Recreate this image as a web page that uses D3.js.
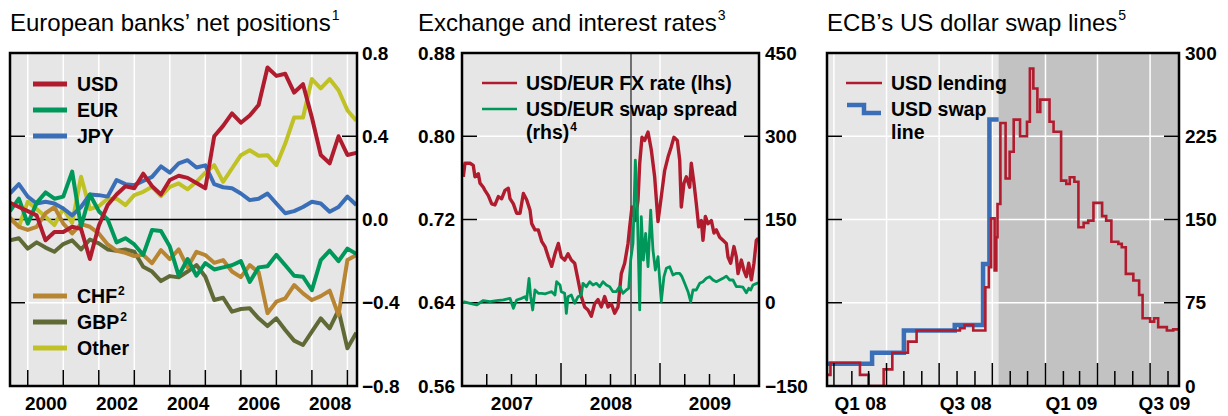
<!DOCTYPE html>
<html>
<head>
<meta charset="utf-8">
<script src="https://cdn.jsdelivr.net/npm/d3@7"></script>
<style>
body { margin: 0; background: #fff; }
svg { display: block; font-family: "Liberation Sans", Arial, Helvetica, sans-serif; }
.axis text { font-size: 19px; font-weight: bold; fill: #000; }
.title { font-size: 24px; fill: #000; }
.leg { font-size: 19.5px; font-weight: bold; fill: #000; }
</style>
</head>
<body>
<svg id="chart" width="1228" height="416"></svg>
<script>
// ---------- panel 1: European banks' net positions (quarterly)
var quarters = ["1999Q3","1999Q4",
  "2000Q1","2000Q2","2000Q3","2000Q4","2001Q1","2001Q2","2001Q3","2001Q4",
  "2002Q1","2002Q2","2002Q3","2002Q4","2003Q1","2003Q2","2003Q3","2003Q4",
  "2004Q1","2004Q2","2004Q3","2004Q4","2005Q1","2005Q2","2005Q3","2005Q4",
  "2006Q1","2006Q2","2006Q3","2006Q4","2007Q1","2007Q2","2007Q3","2007Q4",
  "2008Q1","2008Q2","2008Q3","2008Q4","2009Q1","2009Q2"];
var usd = [0.08,0.06,0.04,0.02,-0.10,-0.06,-0.06,-0.035,-0.045,-0.19,
  -0.03,0.07,0.12,0.16,0.15,0.22,0.16,0.12,0.19,0.21,
  0.20,0.175,0.15,0.40,0.45,0.51,0.465,0.50,0.55,0.73,
  0.69,0.70,0.61,0.65,0.49,0.31,0.27,0.40,0.31,0.32];
var eur = [0.04,0.10,-0.02,0.08,0.13,0.10,0.11,0.23,-0.035,0.12,
  0.04,0.0,-0.11,-0.09,-0.12,-0.17,-0.05,-0.055,-0.13,-0.27,
  -0.19,-0.27,-0.21,-0.24,-0.23,-0.22,-0.20,-0.30,-0.23,-0.225,
  -0.17,-0.22,-0.27,-0.275,-0.34,-0.195,-0.15,-0.20,-0.14,-0.165];
var jpy = [0.125,0.17,0.11,0.077,0.085,0.077,0.053,0.02,0.06,0.12,
  0.117,0.11,0.19,0.17,0.165,0.185,0.205,0.255,0.225,0.27,
  0.285,0.25,0.26,0.17,0.155,0.15,0.125,0.093,0.10,0.125,
  0.077,0.03,0.04,0.06,0.085,0.077,0.037,0.06,0.11,0.07];
var chf = [0.005,-0.035,-0.05,-0.035,0.03,0.06,-0.02,-0.067,-0.022,-0.035,
  -0.067,-0.12,-0.15,-0.16,-0.176,-0.17,-0.21,-0.147,-0.19,-0.144,
  -0.23,-0.155,-0.171,-0.208,-0.195,-0.25,-0.277,-0.219,-0.253,-0.45,
  -0.395,-0.379,-0.315,-0.355,-0.387,-0.368,-0.342,-0.46,-0.195,-0.171];
var gbp = [-0.10,-0.09,-0.14,-0.11,-0.135,-0.155,-0.118,-0.10,-0.144,-0.096,
  -0.115,-0.144,-0.15,-0.144,-0.155,-0.227,-0.25,-0.296,-0.272,-0.278,
  -0.25,-0.219,-0.275,-0.387,-0.376,-0.443,-0.43,-0.427,-0.475,-0.512,
  -0.475,-0.531,-0.582,-0.603,-0.539,-0.475,-0.523,-0.435,-0.619,-0.544];
var other = [0.01,-0.035,0.085,0.05,0.013,-0.027,0.053,-0.016,0.205,0.05,
  0.064,0.10,0.10,0.069,0.117,0.133,0.157,0.112,0.157,0.173,
  0.145,0.181,0.225,0.261,0.181,0.245,0.309,0.333,0.306,0.309,
  0.261,0.365,0.49,0.49,0.675,0.63,0.675,0.621,0.525,0.475];
var yearTicks1 = [2000,2001,2002,2003,2004,2005,2006,2007,2008,2009];
var yearLabels1 = [2000,2002,2004,2006,2008];
var yTicks1 = [-0.8,-0.4,0,0.4,0.8];

// ---------- panel 2: exchange and interest rates (read roughly every 10 days)
var fxYear = [2007.013,2007.030,2007.081,2007.114,2007.131,2007.165,2007.182,2007.215,2007.232,2007.266,
  2007.300,2007.333,2007.367,2007.401,2007.434,2007.468,2007.485,2007.519,2007.552,2007.586,
  2007.620,2007.653,2007.687,2007.704,2007.737,2007.771,2007.805,2007.838,2007.872,2007.906,
  2007.939,2007.973,2008.003,2008.037,2008.071,2008.104,2008.138,2008.172,2008.205,2008.239,
  2008.273,2008.306,2008.340,2008.374,2008.407,2008.441,2008.475,2008.508,2008.542,2008.576,
  2008.609,2008.643,2008.677,2008.694,2008.717,2008.751,2008.778,2008.795,2008.818,2008.845,
  2008.879,2008.912,2008.946,2008.980,2009.013,2009.047,2009.081,2009.114,2009.141,2009.175,
  2009.199,2009.215,2009.242,2009.266,2009.300,2009.316,2009.343,2009.367,2009.391,2009.418,
  2009.434,2009.458,2009.485,2009.519,2009.545,2009.569,2009.603,2009.636,2009.670,2009.687,
  2009.714,2009.747,2009.771,2009.788,2009.822,2009.848,2009.872,2009.896,2009.923,2009.949,
  2009.973,2009.993];
var fxRate = [0.761,0.774,0.774,0.772,0.761,0.764,0.755,0.751,0.748,0.743,
  0.735,0.734,0.742,0.740,0.748,0.750,0.740,0.735,0.726,0.726,
  0.745,0.739,0.729,0.716,0.710,0.710,0.699,0.694,0.684,0.675,
  0.687,0.697,0.684,0.681,0.687,0.681,0.678,0.662,0.646,0.636,
  0.633,0.627,0.639,0.643,0.636,0.646,0.636,0.639,0.630,0.636,
  0.668,0.678,0.697,0.713,0.732,0.719,0.739,0.774,0.799,0.796,
  0.804,0.787,0.761,0.718,0.742,0.767,0.780,0.790,0.799,0.796,
  0.777,0.732,0.755,0.761,0.751,0.774,0.755,0.735,0.713,0.719,
  0.700,0.723,0.716,0.719,0.707,0.710,0.703,0.700,0.697,0.684,
  0.678,0.694,0.684,0.668,0.681,0.671,0.665,0.678,0.662,0.678,
  0.700,0.702];
var swapYear = [2007.013,2007.081,2007.148,2007.215,2007.283,2007.350,2007.418,2007.485,2007.519,2007.552,
  2007.603,2007.636,2007.653,2007.677,2007.694,2007.714,2007.737,2007.771,2007.805,2007.838,
  2007.872,2007.906,2007.939,2007.956,2007.990,2008.003,2008.037,2008.054,2008.071,2008.104,
  2008.138,2008.172,2008.205,2008.222,2008.256,2008.290,2008.323,2008.357,2008.391,2008.424,
  2008.458,2008.492,2008.525,2008.559,2008.593,2008.626,2008.660,2008.684,2008.704,2008.727,
  2008.751,2008.771,2008.795,2008.811,2008.832,2008.855,2008.879,2008.906,2008.929,2008.953,
  2008.980,2009.013,2009.040,2009.064,2009.098,2009.131,2009.165,2009.199,2009.222,2009.249,
  2009.283,2009.310,2009.333,2009.367,2009.401,2009.434,2009.468,2009.502,2009.535,2009.569,
  2009.603,2009.636,2009.670,2009.704,2009.737,2009.771,2009.805,2009.838,2009.872,2009.896,
  2009.916,2009.939,2009.966,2009.993];
var swapSpread = [2,-1,-4,4,2,4,5,8,-10,5,
  8,11,5,44,11,-13,23,17,17,16,
  18,20,14,38,32,20,17,-19,11,14,
  -1,11,14,35,29,38,32,35,29,38,
  32,29,20,20,29,17,23,26,77,107,
  257,167,-13,155,77,125,65,167,95,59,
  83,2,47,62,65,50,53,53,47,35,
  20,2,23,23,35,38,44,47,41,38,
  41,44,48,41,41,29,29,28,18,26,
  23,32,34,36];
var lehmanYear = 2008.707;
var yTicks2L = [0.56,0.64,0.72,0.80,0.88];
var yTicks2R = [-150,0,150,300,450];

// ---------- panel 3: ECB's US dollar swap lines
var swapLineDates = ["2007-12-20","2008-03-07","2008-05-01","2008-07-28","2008-09-15","2008-09-26","2008-10-12"];
var swapLineValues = [20,30,50,55,110,240,240];
var lendingDates = ["2007-12-20","2007-12-26","2008-02-15","2008-03-01","2008-03-27","2008-04-11","2008-05-08",
  "2008-05-23","2008-08-06","2008-08-14","2008-08-29","2008-09-19","2008-09-25","2008-09-29","2008-10-05",
  "2008-10-08","2008-10-10","2008-10-15","2008-10-24","2008-10-31","2008-11-07","2008-11-18","2008-11-30",
  "2008-12-05","2008-12-11","2008-12-18","2008-12-23","2009-01-08","2009-01-15","2009-01-28","2009-02-06",
  "2009-02-12","2009-02-20","2009-02-27","2009-03-08","2009-03-16","2009-03-25","2009-04-09","2009-04-16",
  "2009-04-25","2009-05-07","2009-05-13","2009-05-20","2009-06-02","2009-06-12","2009-06-18","2009-07-01",
  "2009-07-08","2009-07-15","2009-07-30","2009-08-10","2009-08-20"];
var lendingValues = [10,21,10,0,15,30,40,
  50,52,55,50,89,107,151,104,
  134,164,237,187,211,240,225,238,
  286,268,247,258,238,229,185,182,
  188,184,143,147,149,165,153,149,
  130,128,125,101,95,82,61,58,
  61,53,50,51,51];
var shadeStart = "2008-10-12";
var qLabels3 = ["Q1 08","Q3 08","Q1 09","Q3 09"];
var qLabelDates3 = ["2008-02-15","2008-08-15","2009-02-14","2009-07-25"];
var yTicks3 = [0,75,150,225,300];

// ---------- layout
var svg = d3.select("#chart");
var plotTop = 53, plotBottom = 386;
var bg = "#e6e6e6";
var col = {usd:"#b01c2e", eur:"#00975a", jpy:"#3a6fb8", chf:"#b88632", gbp:"#5f6a36", other:"#bfc124"};
var parse = d3.timeParse("%Y-%m-%d");
var qYear = function(q) { return +q.slice(0,4) + (+q.slice(5) - 1) / 4; };

function background(g, x0, x1, id) {
  g.append("rect").attr("x", x0).attr("y", plotTop).attr("width", x1 - x0)
    .attr("height", plotBottom - plotTop).attr("fill", bg);
  svg.append("clipPath").attr("id", id).append("rect")
    .attr("x", x0).attr("y", plotTop).attr("width", x1 - x0).attr("height", plotBottom - plotTop);
}
function hgrid(g, x0, x1, ys, color, w) {
  g.selectAll(null).data(ys).enter().append("line")
    .attr("x1", x0).attr("x2", x1).attr("y1", d => d).attr("y2", d => d)
    .attr("stroke", color).attr("stroke-width", w);
}
function vgrid(g, xs, color, w) {
  g.selectAll(null).data(xs).enter().append("line")
    .attr("x1", d => d).attr("x2", d => d).attr("y1", plotTop).attr("y2", plotBottom)
    .attr("stroke", color).attr("stroke-width", w);
}
function sideTicks(g, x0, x1, ys) {
  ys.forEach(function(y) {
    g.append("line").attr("x1", x0).attr("x2", x0 + 15).attr("y1", y).attr("y2", y).attr("stroke", "#000").attr("stroke-width", 1.5);
    g.append("line").attr("x1", x1 - 15).attr("x2", x1).attr("y1", y).attr("y2", y).attr("stroke", "#000").attr("stroke-width", 1.5);
  });
}
function bottomTicks(g, xs) {
  g.selectAll(null).data(xs).enter().append("line")
    .attr("x1", d => d[0]).attr("x2", d => d[0])
    .attr("y1", plotBottom).attr("y2", d => plotBottom - d[1])
    .attr("stroke", "#000").attr("stroke-width", 1.5);
}
function border(g, x0, x1) {
  g.append("rect").attr("x", x0).attr("y", plotTop).attr("width", x1 - x0)
    .attr("height", plotBottom - plotTop).attr("fill", "none").attr("stroke", "#000").attr("stroke-width", 2.5);
}
function yLabels(scale, x, side, vals, fmt, pad) {
  var ax = (side === "right" ? d3.axisRight(scale) : d3.axisLeft(scale))
    .tickValues(vals).tickSize(0).tickPadding(pad).tickFormat(fmt);
  svg.append("g").attr("class", "axis").attr("transform", "translate(" + x + ",0)")
    .call(ax).call(a => a.select(".domain").remove());
}
function xLabels(scale, vals, fmt) {
  var ax = d3.axisBottom(scale).tickValues(vals).tickSize(0).tickPadding(11).tickFormat(fmt);
  svg.append("g").attr("class", "axis").attr("transform", "translate(0," + plotBottom + ")")
    .call(ax).call(a => a.select(".domain").remove());
}
function title(x, txt, sup) {
  var t = svg.append("text").attr("class", "title").attr("x", x).attr("y", 31).text(txt);
  t.append("tspan").attr("font-size", 14).attr("dx", 1).attr("dy", -11).text(sup);
}
function legText(x, y, txt, sup) {
  var t = svg.append("text").attr("class", "leg").attr("x", x).attr("y", y).text(txt);
  if (sup) t.append("tspan").attr("font-size", 12).attr("dx", 1).attr("dy", -8).text(sup);
}

// ================= panel 1
var p1 = {x0: 10, x1: 357};
var x1s = d3.scaleLinear().domain([1999.5, 2009.27]).range([p1.x0, p1.x1]);
var y1s = d3.scaleLinear().domain([-0.8, 0.8]).range([plotBottom, plotTop]);
var g1 = svg.append("g");
background(g1, p1.x0, p1.x1, "clip1");
vgrid(g1, yearTicks1.map(x1s), "#fff", 1.5);
hgrid(g1, p1.x0, p1.x1, [y1s(0.4), y1s(-0.4)], "#fff", 1.5);
hgrid(g1, p1.x0, p1.x1, [y1s(0)], "#000", 1.5);
var series1 = [
  {v: other, c: col.other}, {v: gbp, c: col.gbp}, {v: chf, c: col.chf},
  {v: jpy, c: col.jpy}, {v: eur, c: col.eur}, {v: usd, c: col.usd}
];
var line1 = d3.line().x((d, i) => x1s(qYear(quarters[i]))).y(d => y1s(d));
var gl1 = g1.append("g").attr("clip-path", "url(#clip1)");
series1.forEach(function(s) {
  gl1.append("path").attr("d", line1(s.v)).attr("fill", "none").attr("stroke", s.c)
    .attr("stroke-width", 4).attr("stroke-linejoin", "round");
});
sideTicks(g1, p1.x0, p1.x1, [y1s(0.4), y1s(-0.4)]);
bottomTicks(g1, yearTicks1.map(d => [x1s(d), 16]));
border(g1, p1.x0, p1.x1);
yLabels(y1s, p1.x1, "right", yTicks1, d3.format(".1f"), 5);
xLabels(x1s, yearLabels1.map(d => d + 0.5), d => Math.floor(d));
title(10, "European banks\u2019 net positions", "1");
var leg1 = [
  {t: "USD", c: col.usd, y: 84}, {t: "EUR", c: col.eur, y: 110}, {t: "JPY", c: col.jpy, y: 136},
  {t: "CHF", s: "2", c: col.chf, y: 296}, {t: "GBP", s: "2", c: col.gbp, y: 322}, {t: "Other", c: col.other, y: 348}
];
leg1.forEach(function(l) {
  svg.append("line").attr("x1", 33).attr("x2", 67).attr("y1", l.y).attr("y2", l.y)
    .attr("stroke", l.c).attr("stroke-width", 5);
  legText(77, l.y + 7, l.t, l.s);
});

// ================= panel 2
var p2 = {x0: 462, x1: 759};
var x2s = d3.scaleLinear().domain([2007, 2010]).range([p2.x0, p2.x1]);
var y2L = d3.scaleLinear().domain([0.56, 0.88]).range([plotBottom, plotTop]);
var y2R = d3.scaleLinear().domain([-150, 450]).range([plotBottom, plotTop]);
var g2 = svg.append("g");
background(g2, p2.x0, p2.x1, "clip2");
vgrid(g2, [x2s(2008), x2s(2009)], "#fff", 1.5);
hgrid(g2, p2.x0, p2.x1, [y2L(0.72), y2L(0.80)], "#fff", 1.5);
hgrid(g2, p2.x0, p2.x1, [y2L(0.64)], "#000", 1.5);
vgrid(g2, [x2s(lehmanYear)], "#4a4a4a", 1.5);
var gl2 = g2.append("g").attr("clip-path", "url(#clip2)");
gl2.append("path")
  .attr("d", d3.line().x((d, i) => x2s(fxYear[i])).y(d => y2L(d))(fxRate))
  .attr("fill", "none").attr("stroke", col.usd).attr("stroke-width", 3.4).attr("stroke-linejoin", "round");
gl2.append("path")
  .attr("d", d3.line().x((d, i) => x2s(swapYear[i])).y(d => y2R(d))(swapSpread))
  .attr("fill", "none").attr("stroke", col.eur).attr("stroke-width", 2.8).attr("stroke-linejoin", "round");
sideTicks(g2, p2.x0, p2.x1, [y2L(0.72), y2L(0.80)]);
var qt2 = [2007.25,2007.5,2007.75,2008,2008.25,2008.5,2008.75,2009,2009.25,2009.5,2009.75];
bottomTicks(g2, qt2.map(d => [x2s(d), d % 1 === 0 ? 23 : 12]));
border(g2, p2.x0, p2.x1);
yLabels(y2L, p2.x0, "left", yTicks2L, d3.format(".2f"), 7);
yLabels(y2R, p2.x1, "right", yTicks2R, d3.format("d"), 6);
xLabels(x2s, [2007.5, 2008.5, 2009.5], d => Math.floor(d));
title(418, "Exchange and interest rates", "3");
svg.append("line").attr("x1", 482).attr("x2", 517).attr("y1", 83).attr("y2", 83).attr("stroke", col.usd).attr("stroke-width", 2.7);
svg.append("line").attr("x1", 482).attr("x2", 517).attr("y1", 109).attr("y2", 109).attr("stroke", col.eur).attr("stroke-width", 2.7);
legText(526, 90, "USD/EUR FX rate (lhs)");
legText(526, 116, "USD/EUR swap spread");
legText(526, 139, "(rhs)", "4");

// ================= panel 3
var p3 = {x0: 827, x1: 1179};
var x3s = d3.scaleTime().domain([parse("2007-12-20"), parse("2009-08-20")]).range([p3.x0, p3.x1]);
var y3s = d3.scaleLinear().domain([0, 300]).range([plotBottom, plotTop]);
var g3 = svg.append("g");
background(g3, p3.x0, p3.x1, "clip3");
g3.append("rect").attr("x", x3s(parse(shadeStart))).attr("y", plotTop)
  .attr("width", p3.x1 - x3s(parse(shadeStart))).attr("height", plotBottom - plotTop).attr("fill", "#c2c2c2");
var months3 = d3.timeMonth.range(parse("2008-01-01"), parse("2009-08-02"));
vgrid(g3, months3.filter(m => m.getMonth() % 3 === 0).map(x3s), "#fff", 1.5);
hgrid(g3, p3.x0, p3.x1, [y3s(75), y3s(150), y3s(225)], "#fff", 1.5);
var gl3 = g3.append("g").attr("clip-path", "url(#clip3)");
gl3.append("path")
  .attr("d", d3.line().curve(d3.curveStepAfter).x((d, i) => x3s(parse(swapLineDates[i]))).y(d => y3s(d))(swapLineValues))
  .attr("fill", "none").attr("stroke", col.jpy).attr("stroke-width", 4.5);
gl3.append("path")
  .attr("d", d3.line().curve(d3.curveStepAfter).x((d, i) => x3s(parse(lendingDates[i]))).y(d => y3s(d))(lendingValues))
  .attr("fill", "none").attr("stroke", col.usd).attr("stroke-width", 2.6);
sideTicks(g3, p3.x0, p3.x1, [y3s(75), y3s(150), y3s(225)]);
bottomTicks(g3, months3.map(m => [x3s(m), m.getMonth() % 3 === 0 ? 23 : 15]));
border(g3, p3.x0, p3.x1);
yLabels(y3s, p3.x1, "right", yTicks3, d3.format("d"), 6);
xLabels(x3s, qLabelDates3.map(parse), (d, i) => qLabels3[i]);
title(827, "ECB\u2019s US dollar swap lines", "5");
svg.append("line").attr("x1", 846).attr("x2", 882).attr("y1", 83).attr("y2", 83).attr("stroke", col.usd).attr("stroke-width", 2.6);
svg.append("path").attr("d", "M847,105H864V113H881").attr("fill", "none").attr("stroke", col.jpy).attr("stroke-width", 4.5);
legText(891, 90, "USD lending");
legText(891, 116, "USD swap");
legText(891, 139, "line");
</script>
</body>
</html>
